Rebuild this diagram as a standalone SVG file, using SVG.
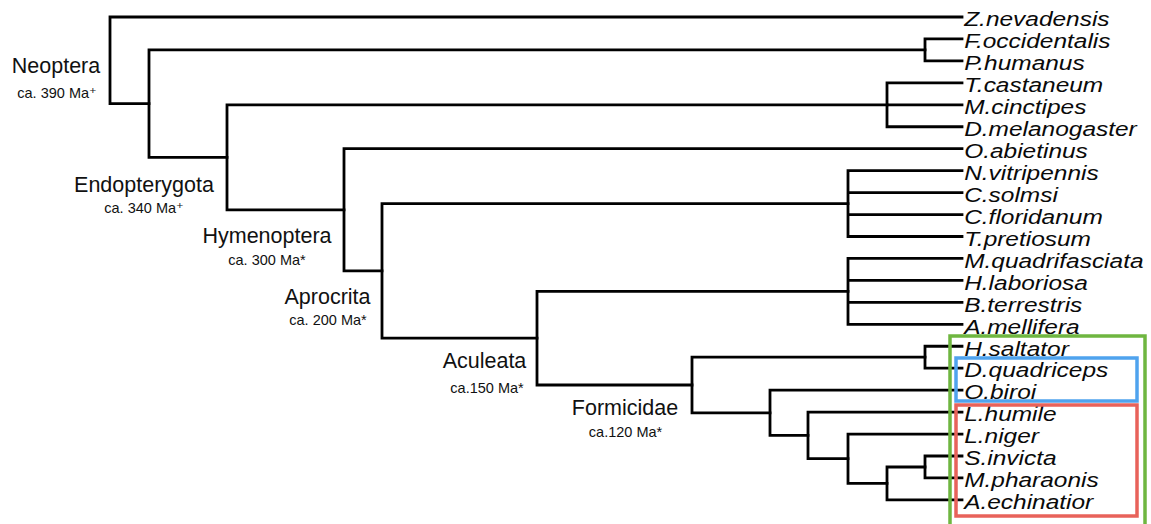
<svg xmlns="http://www.w3.org/2000/svg" width="1151" height="524" viewBox="0 0 1151 524">
<style>
.br{fill:none;stroke:#000;stroke-width:2.8;stroke-linecap:square}
.leaf{font-family:"Liberation Sans",Arial,sans-serif;font-style:italic;font-size:21px;fill:#0a0a0a}
.clade{font-family:"Liberation Sans",Arial,sans-serif;font-size:21.5px;fill:#111;text-anchor:middle}
.age{font-family:"Liberation Sans",Arial,"DejaVu Sans",sans-serif;font-size:14.5px;fill:#111;text-anchor:middle}
.box{fill:none;stroke-width:3.5}
</style>
<rect width="1151" height="524" fill="#fff"/>
<g id="connectors">
<path class="br" d="M110,17V103.6M110,17H962M110,103.6H149"/>
<path class="br" d="M149,49.9V157.3M149,49.9H925M149,157.3H227"/>
<path class="br" d="M925,38.95V60.9M925,38.95H962M925,60.9H962"/>
<path class="br" d="M227,104.8V209.8M227,104.8H887M227,209.8H344"/>
<path class="br" d="M887,82.85V126.75M887,82.85H962M887,104.8H962M887,126.75H962"/>
<path class="br" d="M344,148.7V270.9M344,148.7H962M344,270.9H382"/>
<path class="br" d="M382,203.6V338.2M382,203.6H848M382,338.2H537"/>
<path class="br" d="M848,170.65V236.5M848,170.65H962M848,192.6H962M848,214.55H962M848,236.5H962"/>
<path class="br" d="M537,291.4V385M537,291.4H848M537,385H692"/>
<path class="br" d="M848,258.45V324.3M848,258.45H962M848,280.4H962M848,302.35H962M848,324.3H962"/>
<path class="br" d="M692,357.2V412.8M692,357.2H925M692,412.8H770"/>
<path class="br" d="M925,346.25V368.2M925,346.25H962M925,368.2H962"/>
<path class="br" d="M770,390.15V435.4M770,390.15H962M770,435.4H808"/>
<path class="br" d="M808,412.1V458.7M808,412.1H962M808,458.7H848"/>
<path class="br" d="M848,434.05V483.4M848,434.05H962M848,483.4H887"/>
<path class="br" d="M887,467V499.9M887,467H925M887,499.9H962"/>
<path class="br" d="M925,456V477.95M925,456H962M925,477.95H962"/>
</g>
<g id="clades">
<g id="neoptera"><text class="clade" x="56" y="73">Neoptera</text><text class="age" x="57" y="97.5">ca. 390 Ma⁺</text></g>
<g id="endopterygota"><text class="clade" x="144" y="192">Endopterygota</text><text class="age" x="144" y="213">ca. 340 Ma⁺</text></g>
<g id="hymenoptera"><text class="clade" x="267" y="243">Hymenoptera</text><text class="age" x="267" y="265">ca. 300 Ma*</text></g>
<g id="aprocrita"><text class="clade" x="327.5" y="304">Aprocrita</text><text class="age" x="328" y="325">ca. 200 Ma*</text></g>
<g id="aculeata"><text class="clade" x="484.5" y="368">Aculeata</text><text class="age" x="487" y="393">ca.150 Ma*</text></g>
<g id="formicidae"><text class="clade" x="625" y="415">Formicidae</text><text class="age" x="625.5" y="437">ca.120 Ma*</text></g>
</g>
<g id="leaves" transform="translate(963 0) scale(1.165 1)">
<g id="z-nevadensis"><text class="leaf" x="1" y="26.3">Z.nevadensis</text></g>
<g id="f-occidentalis"><text class="leaf" x="1" y="48.25">F.occidentalis</text></g>
<g id="p-humanus"><text class="leaf" x="1" y="70.2">P.humanus</text></g>
<g id="t-castaneum"><text class="leaf" x="1" y="92.15">T.castaneum</text></g>
<g id="m-cinctipes"><text class="leaf" x="1" y="114.1">M.cinctipes</text></g>
<g id="d-melanogaster"><text class="leaf" x="1" y="136.05">D.melanogaster</text></g>
<g id="o-abietinus"><text class="leaf" x="1" y="158">O.abietinus</text></g>
<g id="n-vitripennis"><text class="leaf" x="1" y="179.95">N.vitripennis</text></g>
<g id="c-solmsi"><text class="leaf" x="1" y="201.9">C.solmsi</text></g>
<g id="c-floridanum"><text class="leaf" x="1" y="223.85">C.floridanum</text></g>
<g id="t-pretiosum"><text class="leaf" x="1" y="245.8">T.pretiosum</text></g>
<g id="m-quadrifasciata"><text class="leaf" x="1" y="267.75">M.quadrifasciata</text></g>
<g id="h-laboriosa"><text class="leaf" x="1" y="289.7">H.laboriosa</text></g>
<g id="b-terrestris"><text class="leaf" x="1" y="311.65">B.terrestris</text></g>
<g id="a-mellifera"><text class="leaf" x="1" y="333.6">A.mellifera</text></g>
<g id="h-saltator"><text class="leaf" x="1" y="355.55">H.saltator</text></g>
<g id="d-quadriceps"><text class="leaf" x="1" y="377.5">D.quadriceps</text></g>
<g id="o-biroi"><text class="leaf" x="1" y="399.45">O.biroi</text></g>
<g id="l-humile"><text class="leaf" x="1" y="421.4">L.humile</text></g>
<g id="l-niger"><text class="leaf" x="1" y="443.35">L.niger</text></g>
<g id="s-invicta"><text class="leaf" x="1" y="465.3">S.invicta</text></g>
<g id="m-pharaonis"><text class="leaf" x="1" y="487.25">M.pharaonis</text></g>
<g id="a-echinatior"><text class="leaf" x="1" y="509.2">A.echinatior</text></g>
</g>
<g id="highlights">
<rect id="box-green" class="box" x="950" y="336" width="195" height="200" stroke="#6fb640"/>
<rect id="box-blue" class="box" x="956" y="358" width="181" height="43" stroke="#4fa3ee"/>
<rect id="box-red" class="box" x="956" y="405" width="181" height="111" stroke="#e8625a"/>
</g>
</svg>
